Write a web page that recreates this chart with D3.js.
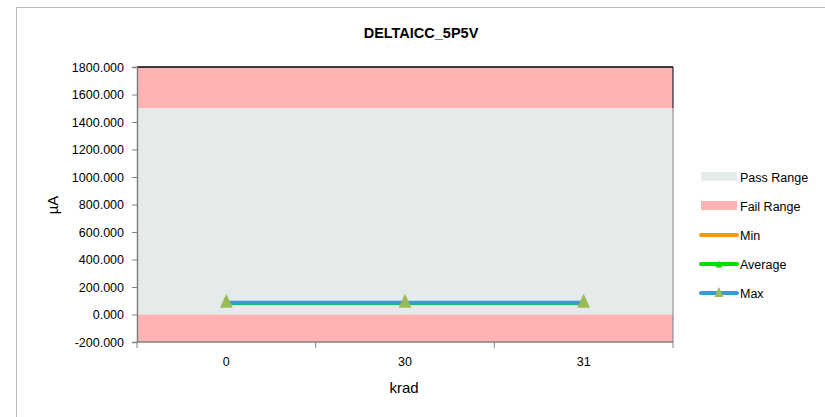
<!DOCTYPE html>
<html><head><meta charset="utf-8">
<script src="https://cdn.jsdelivr.net/npm/d3@7"></script>
<style>
body{margin:0;background:#fff;}
text{font-family:"Liberation Sans",Arial,sans-serif;}
</style></head>
<body>
<svg id="c" width="825" height="417"></svg>
<script>
const categories = ["0","30","31"];
const minValues = [82, 82, 82];
const avgValues = [84, 84, 84];
const maxValues = [86, 86, 86];
const yTicks = [-200,0,200,400,600,800,1000,1200,1400,1600,1800];
const passRange = [0, 1500];
const failRanges = [[1500, 1800], [-200, 0]];
const legendItems = ["Pass Range","Fail Range","Min","Average","Max"];

const svg = d3.select("#c");
// outer border
svg.append("rect").attr("x",16.5).attr("y",7.5).attr("width",820).attr("height",420)
  .attr("fill","#fff").attr("stroke","#bdbdbd").attr("stroke-width",1);

const L=137, R=673, T=67, B=342;
const y = d3.scaleLinear().domain([-200,1800]).range([B,T]);
const x = d3.scaleBand().domain(categories).range([L,R]);
const xc = d => x(d)+x.bandwidth()/2;

// pass band
svg.append("rect").attr("x",L).attr("width",R-L)
  .attr("y",y(passRange[1])).attr("height",y(passRange[0])-y(passRange[1])).attr("fill","#E5EBEB");
failRanges.forEach(f=>{
  svg.append("rect").attr("x",L).attr("width",R-L)
    .attr("y",y(f[1])).attr("height",y(f[0])-y(f[1])).attr("fill","#FFB3B3");
});
// top black border and right border
svg.append("line").attr("x1",L).attr("x2",R).attr("y1",y(1800)).attr("y2",y(1800)).attr("stroke","#000").attr("stroke-width",1.5);
svg.append("line").attr("x1",R).attr("x2",R).attr("y1",y(1800)).attr("y2",y(1500)).attr("stroke","#000").attr("stroke-width",1);
svg.append("line").attr("x1",R).attr("x2",R).attr("y1",y(1500)).attr("y2",B).attr("stroke","#808080").attr("stroke-width",1);

// y axis
const fmt = d3.format(".3f");
const ya = svg.append("g").attr("transform",`translate(${L},0)`)
  .call(d3.axisLeft(y).tickValues(yTicks).tickFormat(d=>fmt(d).replace("\u2212","-")).tickSize(5).tickPadding(8));
ya.select(".domain").attr("stroke","#808080").attr("stroke-width",1.5);
ya.selectAll(".tick line").attr("stroke","#808080");
ya.selectAll("text").attr("font-size","12.5px").attr("fill","#000").attr("font-family","Liberation Sans, Arial");

// x axis
const xa = svg.append("g").attr("transform",`translate(0,${B})`);
xa.append("line").attr("x1",L).attr("x2",R).attr("y1",0).attr("y2",0).attr("stroke","#808080").attr("stroke-width",1.5);
const bounds = [L, ...categories.slice(1).map(c=>x(c)), R];
xa.selectAll("line.tk").data(bounds).enter().append("line").attr("class","tk")
  .attr("x1",d=>d).attr("x2",d=>d).attr("y1",0).attr("y2",6).attr("stroke","#808080");
xa.selectAll("text").data(categories).enter().append("text")
  .attr("x",d=>xc(d)).attr("y",24).attr("text-anchor","middle").attr("font-size","12.5px").text(d=>d);

// labels
svg.append("text").attr("x",421).attr("y",38).attr("text-anchor","middle").attr("font-weight","bold").attr("font-size","14.5px").text("DELTAICC_5P5V");
svg.append("text").attr("x",404).attr("y",393).attr("text-anchor","middle").attr("font-size","15px").text("krad");
svg.append("text").attr("transform","translate(58,205) rotate(-90)").attr("text-anchor","middle").attr("font-size","15px").text("µA");

// series
const line = d3.line().x((d,i)=>xc(categories[i])).y(d=>y(d));
const series = [
  {vals:minValues, color:"#FF9900", marker:"diamond", mcolor:"#FF9900"},
  {vals:avgValues, color:"#00DD00", marker:"triangle", mcolor:"#00DD00"},
  {vals:maxValues, color:"#3A9AD0", marker:"triangle", mcolor:"#9BBB59"}
];
function drawMarker(g, type, cx, cy, color, size){
  if(type==="diamond"){
    g.append("path").attr("d",d3.symbol(d3.symbolDiamond, size*0.5)()).attr("transform",`translate(${cx},${cy})`).attr("fill",color);
  } else {
    g.append("path").attr("d",`M${cx},${cy-size/2}L${cx+size/2.2},${cy+size/2}L${cx-size/2.2},${cy+size/2}Z`).attr("fill",color);
  }
}
series.forEach(s=>{
  svg.append("path").datum(s.vals).attr("d",line).attr("fill","none").attr("stroke",s.color).attr("stroke-width",4);
});
series.forEach((s,si)=>{
  s.vals.forEach((v,i)=>{
    drawMarker(svg, s.marker, xc(categories[i]), y(v)-(si===2?2:0), s.mcolor, si===2?14:8);
  });
});

// legend
const lg = svg.append("g");
const ly0 = 177, ldy = 29;
legendItems.forEach((name,i)=>{
  const yy = ly0 + i*ldy;
  if(i===0) lg.append("rect").attr("x",701).attr("y",yy-5).attr("width",36).attr("height",9).attr("fill","#E5EBEB");
  else if(i===1) lg.append("rect").attr("x",701).attr("y",yy-5).attr("width",36).attr("height",9).attr("fill","#FFB3B3");
  else {
    const s = series[i-2];
    lg.append("line").attr("x1",701).attr("x2",737).attr("y1",yy).attr("y2",yy).attr("stroke",s.color).attr("stroke-width",4).attr("stroke-linecap","round");
    drawMarker(lg, s.marker, 719, yy-(i===4?1:0), s.mcolor, i===4?10:7);
  }
  lg.append("text").attr("x",740).attr("y",yy+4.5).attr("font-size","12.5px").text(name);
});
</script>
</body></html>
